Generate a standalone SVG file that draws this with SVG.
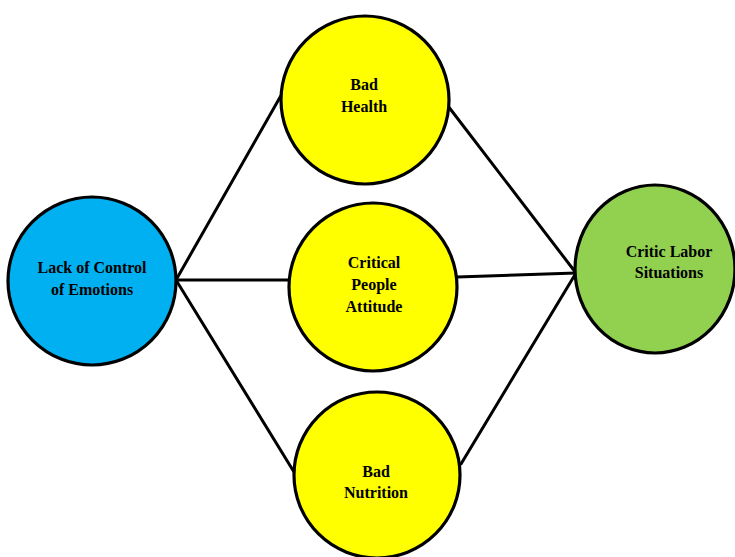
<svg xmlns="http://www.w3.org/2000/svg" width="735" height="557" viewBox="0 0 735 557">
<style>
.n{stroke:#000;stroke-width:3.2}
.c{stroke:#000;stroke-width:3;fill:none;stroke-linecap:round}
text{font-family:"Liberation Serif","Times New Roman",serif;font-weight:bold;font-size:16px;text-anchor:middle;fill:#000}
</style>
<rect width="735" height="557" fill="#fff"/>
<g id="connectors">
<line class="c" x1="176" y1="280" x2="283" y2="92"/>
<line class="c" x1="176" y1="280" x2="289" y2="280"/>
<line class="c" x1="176" y1="280" x2="294" y2="472"/>
<line class="c" x1="448" y1="106" x2="576" y2="273"/>
<line class="c" x1="457" y1="277" x2="576" y2="273"/>
<line class="c" x1="461" y1="464" x2="576" y2="273"/>
</g>
<g id="lack">
<circle class="n" cx="92" cy="281" r="84" fill="#00B0F0"/>
<text x="92" y="273">Lack of Control</text>
<text x="92" y="295">of Emotions</text>
</g>
<g id="health">
<circle class="n" cx="365" cy="100" r="84" fill="#FFFF00"/>
<text x="364" y="90">Bad</text>
<text x="364" y="112">Health</text>
</g>
<g id="critical">
<circle class="n" cx="373" cy="287" r="84" fill="#FFFF00"/>
<text x="374" y="268">Critical</text>
<text x="374" y="290">People</text>
<text x="374" y="312">Attitude</text>
</g>
<g id="nutrition">
<circle class="n" cx="377" cy="475" r="83" fill="#FFFF00"/>
<text x="376" y="477">Bad</text>
<text x="376" y="498">Nutrition</text>
</g>
<g id="labor">
<ellipse class="n" cx="655" cy="269" rx="80" ry="84" fill="#92D050"/>
<text x="669" y="257">Critic Labor</text>
<text x="669" y="278">Situations</text>
</g>
</svg>
